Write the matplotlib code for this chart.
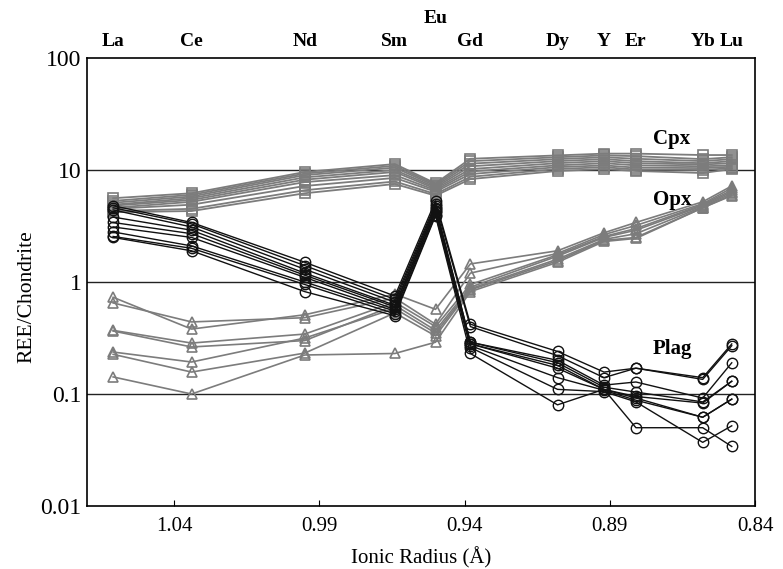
import numpy as np
import matplotlib
matplotlib.use("Agg")
import matplotlib.pyplot as plt
from matplotlib.ticker import FixedLocator, FixedFormatter, NullLocator
from matplotlib.transforms import blended_transform_factory

plt.rcParams['font.family'] = ['Liberation Serif', 'DejaVu Serif']

elements = ["La", "Ce", "Nd", "Sm", "Eu", "Gd", "Dy", "Y", "Er", "Yb", "Lu"]
radius = [1.061, 1.034, 0.995, 0.964, 0.950, 0.938, 0.908, 0.892, 0.881, 0.858, 0.848]

cpx = [
    [5.6, 6.2, 9.6, 11.3, 7.6, 12.6, 13.5, 14.0, 14.0, 13.6, 13.6],
    [5.3, 6.0, 9.3, 10.9, 7.4, 12.0, 13.0, 13.5, 13.3, 12.5, 13.0],
    [5.1, 5.8, 9.0, 10.5, 7.2, 11.4, 12.5, 13.0, 12.6, 12.0, 12.5],
    [4.9, 5.6, 8.6, 10.0, 7.0, 10.8, 12.0, 12.5, 12.0, 11.5, 12.0],
    [4.8, 5.4, 8.2, 9.6, 6.8, 10.2, 11.5, 12.0, 11.5, 11.2, 11.5],
    [4.6, 5.2, 7.8, 9.0, 6.6, 9.7, 11.0, 11.5, 11.0, 10.8, 11.0],
    [4.5, 4.9, 7.2, 8.5, 6.4, 9.2, 10.6, 11.0, 10.5, 10.4, 10.7],
    [4.3, 4.5, 6.6, 7.9, 6.1, 8.7, 10.2, 10.6, 10.1, 10.0, 10.4],
    [4.2, 4.3, 6.2, 7.5, 5.9, 8.3, 9.8, 10.2, 9.8, 9.4, 10.2],
]

opx = [
    [0.73, 0.38, 0.51, 0.78, 0.57, 1.45, 1.90, 2.75, 3.40, 5.20, 7.20],
    [0.65, 0.44, 0.48, 0.72, 0.42, 1.20, 1.80, 2.65, 3.20, 5.00, 6.90],
    [0.37, 0.285, 0.343, 0.66, 0.40, 0.95, 1.75, 2.55, 3.00, 4.90, 6.60],
    [0.365, 0.263, 0.30, 0.62, 0.37, 0.90, 1.70, 2.50, 2.90, 4.80, 6.40],
    [0.237, 0.193, 0.316, 0.58, 0.35, 0.87, 1.60, 2.40, 2.70, 4.70, 6.20],
    [0.226, 0.157, 0.232, 0.53, 0.33, 0.85, 1.55, 2.35, 2.50, 4.60, 6.00],
    [0.142, 0.10, 0.223, 0.23, 0.29, 0.82, 1.50, 2.30, 2.45, 4.60, 5.90],
]

plag = [
    [4.8, 3.4, 1.50, 0.75, 5.3, 0.42, 0.24, 0.157, 0.17, 0.14, 0.28],
    [4.6, 3.3, 1.40, 0.70, 5.0, 0.40, 0.22, 0.140, 0.17, 0.135, 0.27],
    [4.4, 3.1, 1.30, 0.66, 4.8, 0.29, 0.20, 0.120, 0.128, 0.092, 0.19],
    [3.8, 2.9, 1.20, 0.62, 4.6, 0.29, 0.19, 0.115, 0.104, 0.085, 0.13],
    [3.4, 2.7, 1.15, 0.60, 4.5, 0.28, 0.18, 0.110, 0.095, 0.083, 0.13],
    [3.1, 2.5, 1.10, 0.57, 4.3, 0.28, 0.17, 0.110, 0.092, 0.062, 0.09],
    [2.8, 2.1, 1.00, 0.55, 4.2, 0.27, 0.14, 0.108, 0.088, 0.062, 0.09],
    [2.55, 2.0, 0.95, 0.52, 4.0, 0.26, 0.11, 0.105, 0.085, 0.037, 0.052],
    [2.5, 1.9, 0.82, 0.50, 3.9, 0.23, 0.08, 0.110, 0.050, 0.050, 0.034],
]

group_labels = ["Cpx", "Opx", "Plag"]
x_ticks = [1.04, 0.99, 0.94, 0.89, 0.84]
y_ticks = [0.01, 0.1, 1, 10, 100]
y_ticklabels = ["0.01", "0.1", "1", "10", "100"]

fig = plt.figure(figsize=(7.83, 5.69), dpi=100)
ax = fig.add_axes([87/783, 1-506/569, (755-87)/783, (506-58)/569])

gray = "#7c7c7c"
for row in cpx:
    ax.plot(radius, row, color=gray, lw=1.3, marker="s", ms=6.5, mfc="none",
            mec=gray, mew=1.2, zorder=2)
for row in opx:
    ax.plot(radius, row, color=gray, lw=1.2, marker="^", ms=7, mfc="none",
            mec=gray, mew=1.2, zorder=2)
for row in plag:
    ax.plot(radius, row, color="#111111", lw=1.0, marker="o", ms=7.5, mfc="none",
            mec="#111111", mew=1.0, zorder=3)

for yv in [0.1, 1, 10]:
    ax.axhline(yv, color="#222222", lw=1.0, zorder=1)

ax.set_yscale("log")
ax.set_ylim(0.01, 100)
ax.set_xlim(1.07, 0.84)
ax.xaxis.set_major_locator(FixedLocator(x_ticks))
ax.set_xticklabels([f"{v:.2f}" for v in x_ticks])
ax.yaxis.set_major_locator(FixedLocator(y_ticks))
ax.yaxis.set_major_formatter(FixedFormatter(y_ticklabels))
ax.yaxis.set_minor_locator(NullLocator())
ax.tick_params(axis="x", direction="in", length=4, labelsize=15, pad=8)
ax.tick_params(axis="y", direction="in", length=0, labelsize=17, pad=4)
for s in ax.spines.values():
    s.set_linewidth(1.2)

ax.set_xlabel("Ionic Radius (Å)", fontsize=15, labelpad=8)
ax.set_ylabel("REE/Chondrite", fontsize=15.5)
ax.yaxis.set_label_coords(-0.075, 0.4665)

trans = blended_transform_factory(ax.transData, ax.transAxes)
for el, r in zip(elements, radius):
    yy = 1 + 40/448 if el == "Eu" else 1 + 16/448
    ax.text(r, yy, el, transform=trans, ha="center", va="center",
            fontsize=14, fontweight="bold")

ax.text(0.8686, 18.9, group_labels[0], ha="center", va="center", fontsize=15, fontweight="bold")
ax.text(0.8686, 5.4, group_labels[1], ha="center", va="center", fontsize=15, fontweight="bold")
ax.text(0.8686, 0.252, group_labels[2], ha="center", va="center", fontsize=15, fontweight="bold")

fig.savefig("out.png", dpi=100)
